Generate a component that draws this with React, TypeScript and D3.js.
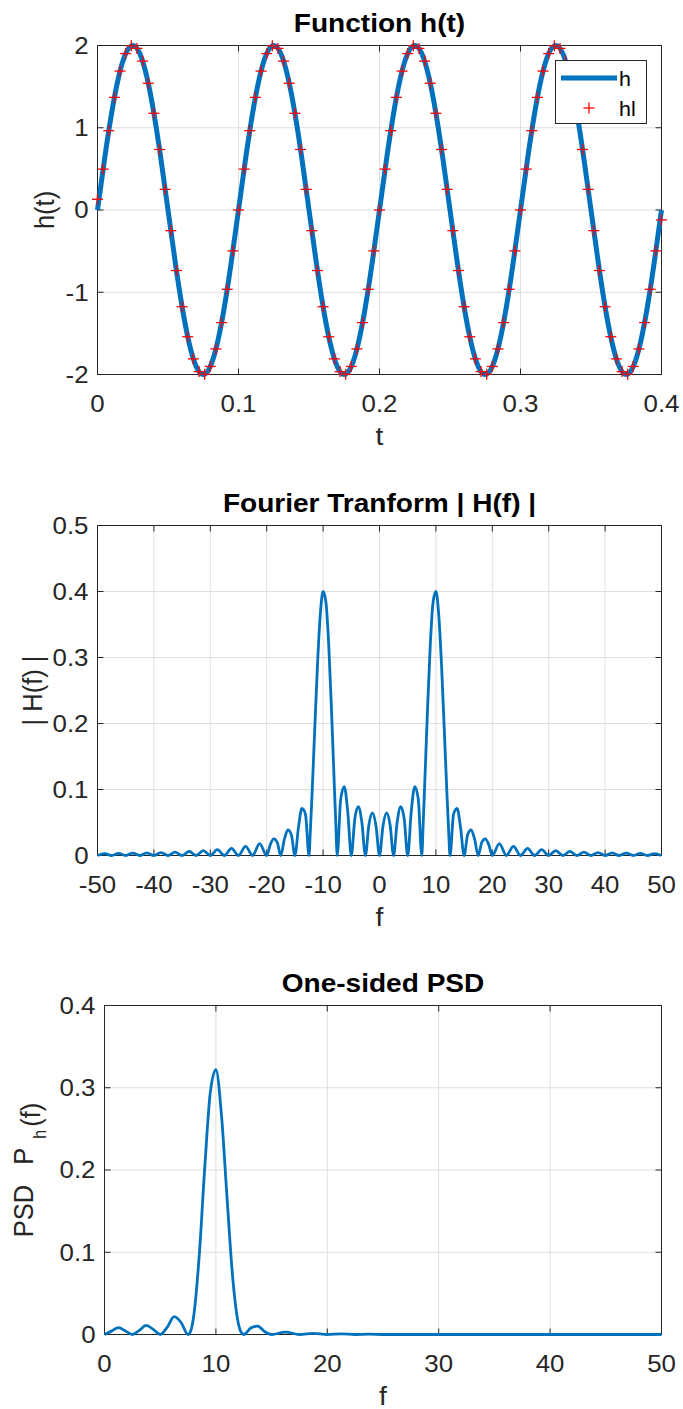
import React from 'react';
import * as d3 from 'd3';

// ---------- data ----------
// Panel 1: h(t) sampled every 0.005 s, hl sampled every 0.004 s
const hStep = 0.005;
const hValues = [
  0, 0.618, 1.176, 1.618, 1.902, 2, 1.902, 1.618, 1.176, 0.618, 0, -0.618, -1.176, -1.618, -1.902, -2, -1.902, -1.618, -1.176, -0.618,
  0, 0.618, 1.176, 1.618, 1.902, 2, 1.902, 1.618, 1.176, 0.618, 0, -0.618, -1.176, -1.618, -1.902, -2, -1.902, -1.618, -1.176, -0.618,
  0, 0.618, 1.176, 1.618, 1.902, 2, 1.902, 1.618, 1.176, 0.618, 0, -0.618, -1.176, -1.618, -1.902, -2, -1.902, -1.618, -1.176, -0.618,
  0, 0.618, 1.176, 1.618, 1.902, 2, 1.902, 1.618, 1.176, 0.618, 0, -0.618, -1.176, -1.618, -1.902, -2, -1.902, -1.618, -1.176, -0.618,
  0,
];
const hlStep = 0.004;
const hlValues = [
  0.13, 0.497, 0.964, 1.369, 1.689, 1.902, 1.996, 1.965, 1.81, 1.541, 1.176, 0.736, 0.251, -0.251, -0.736, -1.176, -1.541, -1.81, -1.965, -1.996, -1.902, -1.689, -1.369, -0.964, -0.497,
  0, 0.497, 0.964, 1.369, 1.689, 1.902, 1.996, 1.965, 1.81, 1.541, 1.176, 0.736, 0.251, -0.251, -0.736, -1.176, -1.541, -1.81, -1.965, -1.996, -1.902, -1.689, -1.369, -0.964, -0.497,
  0, 0.497, 0.964, 1.369, 1.689, 1.902, 1.996, 1.965, 1.81, 1.541, 1.176, 0.736, 0.251, -0.251, -0.736, -1.176, -1.541, -1.81, -1.965, -1.996, -1.902, -1.689, -1.369, -0.964, -0.497,
  0, 0.497, 0.964, 1.369, 1.689, 1.902, 1.996, 1.965, 1.81, 1.541, 1.176, 0.736, 0.251, -0.251, -0.736, -1.176, -1.541, -1.81, -1.965, -1.996, -1.902, -1.689, -1.369, -0.964, -0.497,
  -0.12,
];
const tTicks = [0, 0.1, 0.2, 0.3, 0.4];
const hTicks = [-2, -1, 0, 1, 2];

// Panel 2: |H(f)|
const fftFreq = [
  -50, -48.75, -47.5, -46.25, -45, -43.75, -42.5, -41.25, -40, -38.75, -37.5, -36.25, -35, -33.75, -32.5, -31.25, -30,
  -28.75, -27.5, -26.25, -25, -23.75, -22.5, -21.25, -20, -19.375, -18.75, -18.125, -17.5, -16.875, -16.25, -15.625, -15,
  -14.375, -13.75, -13.125, -12.5, -12.25, -12, -11.5, -11, -10.5, -10, -9.5, -9, -8.5, -8, -7.75, -7.5,
  -6.875, -6.25, -5.625, -5, -4.375, -3.75, -3.125, -2.5, -1.875, -1.25, -0.625, 0,
  0.625, 1.25, 1.875, 2.5, 3.125, 3.75, 4.375, 5, 5.625, 6.25, 6.875, 7.5,
  7.75, 8, 8.5, 9, 9.5, 10, 10.5, 11, 11.5, 12, 12.25, 12.5, 13.125, 13.75, 14.375,
  15, 15.625, 16.25, 16.875, 17.5, 18.125, 18.75, 19.375, 20, 21.25, 22.5, 23.75, 25, 26.25, 27.5, 28.75,
  30, 31.25, 32.5, 33.75, 35, 36.25, 37.5, 38.75, 40, 41.25, 42.5, 43.75, 45, 46.25, 47.5, 48.75, 50,
];
const fftMag = [
  0, 0.0028, 0, 0.0031, 0, 0.0035, 0, 0.004, 0, 0.0045, 0, 0.0052, 0, 0.0061, 0, 0.0073, 0,
  0.0088, 0, 0.0108, 0, 0.0137, 0, 0.0181, 0, 0.0163, 0.0253, 0.0197, 0, 0.0244, 0.0388, 0.0312, 0,
  0.0422, 0.0715, 0.0623, 0, 0.0393, 0.085, 0.1877, 0.2883, 0.3651, 0.4, 0.3838, 0.3187, 0.2182, 0.1039, 0.0493, 0,
  0.0854, 0.1045, 0.0659, 0, 0.0557, 0.0741, 0.0499, 0, 0.0467, 0.0647, 0.0452, 0,
  0.0452, 0.0647, 0.0467, 0, 0.0499, 0.0741, 0.0557, 0, 0.0659, 0.1045, 0.0854, 0,
  0.0493, 0.1039, 0.2182, 0.3187, 0.3838, 0.4, 0.3651, 0.2883, 0.1877, 0.085, 0.0393, 0, 0.0623, 0.0715, 0.0422,
  0, 0.0312, 0.0388, 0.0244, 0, 0.0197, 0.0253, 0.0163, 0, 0.0181, 0, 0.0137, 0, 0.0108, 0, 0.0088,
  0, 0.0073, 0, 0.0061, 0, 0.0052, 0, 0.0045, 0, 0.004, 0, 0.0035, 0, 0.0031, 0, 0.0028, 0,
];
const fftXTicks = [-50, -40, -30, -20, -10, 0, 10, 20, 30, 40, 50];
const fftYTicks = [0, 0.1, 0.2, 0.3, 0.4, 0.5];

// Panel 3: one-sided PSD
const psdFreq = [
  0, 0.625, 1.25, 1.875, 2.5, 3.125, 3.75, 4.375, 5, 5.625, 6.25, 6.875, 7.5, 7.75, 8, 8.5, 9, 9.5, 10,
  10.5, 11, 11.5, 12, 12.25, 12.5, 13.125, 13.75, 14.375, 15, 16.25, 17.5, 18.75, 20, 21.25, 22.5, 23.75, 25, 50,
];
const psdVal = [
  0, 0.0041, 0.0084, 0.0044, 0, 0.005, 0.011, 0.0062, 0, 0.0087, 0.0218, 0.0146, 0, 0.0049, 0.0216, 0.0952, 0.2031, 0.2946, 0.322,
  0.2666, 0.1662, 0.0705, 0.0145, 0.0031, 0, 0.0078, 0.0102, 0.0036, 0, 0.003, 0, 0.0013, 0, 0.0007, 0, 0.0004, 0, 0,
];
const psdXTicks = [0, 10, 20, 30, 40, 50];
const psdYTicks = [0, 0.1, 0.2, 0.3, 0.4];

// ---------- styling ----------
const FONT = '"Liberation Sans", Arial, Helvetica, sans-serif';
const AX = '#262626';
const GRID = '#dfdfdf';
const BLUE = '#0072BD';
const TICK_FS = 23.5;
const LABEL_FS = 25.5;
const SX = 1.1; // horizontal stretch of the source rendering

type TProps = {
  x: number;
  y: number;
  size: number;
  anchor?: 'start' | 'middle' | 'end';
  weight?: string;
  fill?: string;
  rotate?: boolean;
  dy?: string;
  children: React.ReactNode;
};

function T({ x, y, size, anchor = 'start', weight = 'normal', fill = AX, rotate = false, dy, children }: TProps) {
  return (
    <text
      transform={`translate(${x},${y}) scale(${SX},1)${rotate ? ' rotate(-90)' : ''}`}
      dy={dy}
      textAnchor={anchor}
      fontSize={size}
      fontWeight={weight}
      fill={fill}
      fontFamily={FONT}
      style={{ whiteSpace: 'pre' }}
    >
      {children}
    </text>
  );
}

type FrameProps = {
  x: d3.ScaleLinear<number, number>;
  y: d3.ScaleLinear<number, number>;
  xTicks: number[];
  yTicks: number[];
  title: string;
  xLabel: string;
  children?: React.ReactNode;
  yLabel: React.ReactNode;
};

function Frame({ x, y, xTicks, yTicks, title, xLabel, children, yLabel }: FrameProps) {
  const [x0, x1] = x.range();
  const [y0, y1] = y.range(); // y0 bottom, y1 top
  const tl = 6;
  const cx = (x0 + x1) / 2;
  return (
    <g>
      {xTicks.map((t) => (
        <line key={'gx' + t} x1={x(t)} x2={x(t)} y1={y1} y2={y0} stroke={GRID} strokeWidth={1} />
      ))}
      {yTicks.map((t) => (
        <line key={'gy' + t} x1={x0} x2={x1} y1={y(t)} y2={y(t)} stroke={GRID} strokeWidth={1} />
      ))}
      <rect x={x0} y={y1} width={x1 - x0} height={y0 - y1} fill="none" stroke={AX} strokeWidth={1} />
      {xTicks.map((t) => (
        <g key={'tx' + t}>
          <line x1={x(t)} x2={x(t)} y1={y0} y2={y0 - tl} stroke={AX} />
          <line x1={x(t)} x2={x(t)} y1={y1} y2={y1 + tl} stroke={AX} />
          <T x={x(t)} y={y0 + 37} size={TICK_FS} anchor="middle">
            {String(t)}
          </T>
        </g>
      ))}
      {yTicks.map((t) => (
        <g key={'ty' + t}>
          <line x1={x0} x2={x0 + tl} y1={y(t)} y2={y(t)} stroke={AX} />
          <line x1={x1} x2={x1 - tl} y1={y(t)} y2={y(t)} stroke={AX} />
          <T x={x0 - 9} y={y(t)} dy="0.36em" size={TICK_FS} anchor="end">
            {String(t)}
          </T>
        </g>
      ))}
      {children}
      <T x={cx} y={y1 - 14} size={25.5} anchor="middle" weight="bold" fill="#000">
        {title}
      </T>
      <T x={cx} y={y0 + 70} size={LABEL_FS} anchor="middle">
        {xLabel}
      </T>
      {yLabel}
    </g>
  );
}

export default function App() {
  // Panel 1
  const x1 = d3.scaleLinear().domain([0, 0.4]).range([97.5, 661.5]);
  const y1 = d3.scaleLinear().domain([-2, 2]).range([374.5, 45.5]);
  const hLine = d3
    .line<number>()
    .x((_, i) => x1(i * hStep))
    .y((v) => y1(v))
    .curve(d3.curveNatural);
  const hlPts = hlValues.map((v, i) => [x1(i * hlStep), y1(v)]);

  // Panel 2
  const x2 = d3.scaleLinear().domain([-50, 50]).range([97.5, 661.5]);
  const y2 = d3.scaleLinear().domain([0, 0.5]).range([855.5, 525.5]);
  const fftLine = d3
    .line<number>()
    .x((_, i) => x2(fftFreq[i]))
    .y((v) => y2(v))
    .curve(d3.curveMonotoneX);

  // Panel 3
  const x3 = d3.scaleLinear().domain([0, 50]).range([104.5, 661.5]);
  const y3 = d3.scaleLinear().domain([0, 0.4]).range([1334.5, 1005.5]);
  const psdLine = d3
    .line<number>()
    .x((_, i) => x3(psdFreq[i]))
    .y((v) => y3(v))
    .curve(d3.curveMonotoneX);

  const cy1 = (374.5 + 45.5) / 2;
  const cy2 = (855.5 + 525.5) / 2;
  const cy3 = (1334.5 + 1005.5) / 2;

  const plus = (cx: number, cy: number, k: string | number) => (
    <g key={k}>
      <line x1={cx - 5.5} x2={cx + 5.5} y1={cy} y2={cy} stroke="#ff0000" strokeWidth={1.3} />
      <line x1={cx} x2={cx} y1={cy - 5.5} y2={cy + 5.5} stroke="#ff0000" strokeWidth={1.3} />
    </g>
  );

  return (
    <div style={{ position: 'absolute', left: 0, top: 0 }}>
      <svg width={683} height={1409} viewBox="0 0 683 1409" style={{ display: 'block', background: '#fff' }}>
        <rect x={0} y={0} width={683} height={1409} fill="#fff" />

        <Frame
          x={x1}
          y={y1}
          xTicks={tTicks}
          yTicks={hTicks}
          title="Function h(t)"
          xLabel="t"
          yLabel={
            <T x={54} y={cy1} size={LABEL_FS} anchor="middle" rotate>
              h(t)
            </T>
          }
        >
          <path d={hLine(hValues) || ''} fill="none" stroke={BLUE} strokeWidth={5} strokeLinejoin="round" />
          {hlPts.map((p, i) => plus(p[0], p[1], i))}
          <g>
            <rect x={555.5} y={60.5} width={91} height={63} fill="#fff" stroke={AX} strokeWidth={1} />
            <line x1={561} x2={617} y1={78} y2={78} stroke={BLUE} strokeWidth={5} />
            <T x={619} y={86} size={19.5} fill="#000">h</T>
            {plus(589, 108, 'leg')}
            <T x={619} y={116} size={19.5} fill="#000">hl</T>
          </g>
        </Frame>

        <Frame
          x={x2}
          y={y2}
          xTicks={fftXTicks}
          yTicks={fftYTicks}
          title="Fourier Tranform | H(f) |"
          xLabel="f"
          yLabel={
            <T x={42} y={cy2} size={LABEL_FS} anchor="middle" rotate>
              | H(f) |
            </T>
          }
        >
          <path d={fftLine(fftMag) || ''} fill="none" stroke={BLUE} strokeWidth={2.8} strokeLinejoin="round" />
        </Frame>

        <Frame
          x={x3}
          y={y3}
          xTicks={psdXTicks}
          yTicks={psdYTicks}
          title="One-sided PSD"
          xLabel="f"
          yLabel={
            <T x={33} y={cy3} size={LABEL_FS} anchor="middle" rotate>
              <tspan>PSD</tspan>
              <tspan dx={6}>  P</tspan>
              <tspan dx={9} dy={12} fontSize={16}>h</tspan>
              <tspan dx={3} dy={-6}>(f)</tspan>
            </T>
          }
        >
          <path d={psdLine(psdVal) || ''} fill="none" stroke={BLUE} strokeWidth={2.8} strokeLinejoin="round" />
        </Frame>
      </svg>
    </div>
  );
}
